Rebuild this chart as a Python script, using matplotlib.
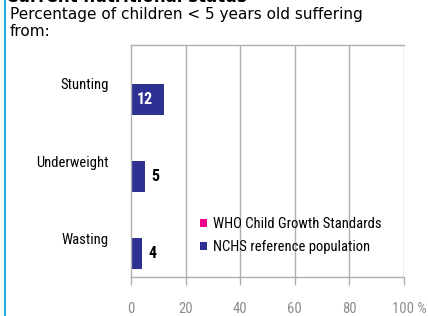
import matplotlib
matplotlib.use("Agg")
import matplotlib.pyplot as plt
import matplotlib.transforms as mtransforms
from matplotlib.patches import Patch
import numpy as np

# -----------------------------
# DATA
# -----------------------------
categories = ["Stunting", "Underweight", "Wasting"]
who_values = [0, 0, 0]          # WHO series has no bars drawn
nchs_values = [12, 5, 4]
x_ticks = [0, 20, 40, 60, 80, 100]
x_tick_labels = ["0", "20", "40", "60", "80", "100 %"]
series_names = ["WHO Child Growth Standards", "NCHS reference population"]

# -----------------------------
# STYLE
# -----------------------------
NARROW = ["Roboto Condensed", "DejaVu Sans"]
NAVY = "#2E3192"
PINK = "#EC008C"
GRID = "#AEAEAE"

fig = plt.figure(figsize=(4.28, 3.16), dpi=100)
fig.patch.set_facecolor("white")

# light blue rule on the left
fig.add_artist(plt.Line2D([4.5 / 428, 4.5 / 428], [0, 1], color="#29ABE2", lw=1.5,
                          transform=fig.transFigure))

# header texts (title is cut by the top edge, as in the original)
fig.text(6 / 428, 1 - 1.5 / 316, "Current nutritional status", fontsize=12, fontweight="bold",
         family="DejaVu Sans", va="baseline", ha="left")
fig.text(10 / 428, 1 - 19 / 316, "Percentage of children < 5 years old suffering",
         fontsize=11, family="DejaVu Sans", va="baseline", ha="left")
fig.text(10 / 428, 1 - 35.5 / 316, "from:", fontsize=11, family="DejaVu Sans",
         va="baseline", ha="left")

ax = fig.add_axes([131 / 428, 1 - 277 / 316, (403.5 - 131) / 428, (277 - 45) / 316])

y = np.arange(len(categories))
h = 0.4
ax.barh(y - h / 2, who_values, height=h, color=PINK, linewidth=0)
ax.barh(y + h / 2, nchs_values, height=h, color=NAVY, linewidth=0)

for i, v in enumerate(nchs_values):
    if v >= 10:
        ax.annotate(str(v), (v, y[i] + h / 2), xytext=(-8, 0), textcoords="offset points",
                    ha="right", va="center", color="white", fontweight="bold",
                    fontsize=11.5, family=NARROW)
    else:
        ax.annotate(str(v), (v, y[i] + h / 2), xytext=(4.5, 0), textcoords="offset points",
                    ha="left", va="center", color="black", fontweight="bold",
                    fontsize=11.5, family=NARROW)

ax.set_xlim(0, 100)
ax.set_ylim(len(categories) - 0.5, -0.5)

ax.set_xticks(x_ticks)
ax.set_xticklabels(x_tick_labels, family=NARROW, fontsize=10.5, color="#8C8C8C")
ax.tick_params(axis="x", length=6, width=1, color=GRID, pad=12)
last = ax.get_xticklabels()[-1]
last.set_transform(last.get_transform() + mtransforms.ScaledTranslation(6 / 100, 0, fig.dpi_scale_trans))

ax.set_yticks(y)
ax.set_yticklabels(categories, family=NARROW, fontsize=10.5)
ax.tick_params(axis="y", length=0, pad=16)

for xv in x_ticks[1:]:
    ax.axvline(xv, color=GRID, lw=1, zorder=0)

for s in ["top", "left", "right", "bottom"]:
    ax.spines[s].set_color(GRID)
    ax.spines[s].set_linewidth(1)
ax.spines["right"].set_visible(False)

handles = [Patch(facecolor=PINK, edgecolor="none"), Patch(facecolor=NAVY, edgecolor="none")]
ax.legend(handles, series_names, loc="upper left", bbox_to_anchor=(187 / 428, 1 - 204 / 316),
          bbox_transform=fig.transFigure, frameon=False, handlelength=0.5, handleheight=0.5,
          handletextpad=0.35, labelspacing=0.6, prop={"family": NARROW, "size": 10.5})

fig.savefig("out.png", dpi=100)
